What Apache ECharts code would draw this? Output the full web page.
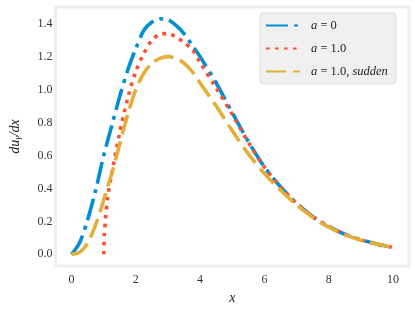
<!DOCTYPE html>
<html><head><meta charset="utf-8">
<script src="https://cdn.jsdelivr.net/npm/echarts@6/dist/echarts.min.js"></script>
<style>html,body{margin:0;padding:0;background:#fff}#c{width:415px;height:310px}</style>
</head><body><div id="c"></div>
<script>
const xTicks = [0, 2, 4, 6, 8, 10];
const yTicks = [0, 0.2, 0.4, 0.6, 0.8, 1.0, 1.2, 1.4];

const xA0 = [0, 0.25, 0.5, 0.75, 1.0, 1.25, 1.5, 1.75, 2.0, 2.25, 2.5, 2.75, 3.0, 3.25, 3.5, 3.75, 4.0, 4.5, 5.0, 5.5, 6.0, 6.5, 7.0, 7.5, 8.0, 8.5, 9.0, 9.5, 10];
const yA0 = [0, 0.07, 0.21, 0.39, 0.60, 0.78, 0.96, 1.12, 1.25, 1.36, 1.41, 1.43, 1.425, 1.39, 1.34, 1.27, 1.20, 1.04, 0.86, 0.685, 0.53, 0.41, 0.31, 0.23, 0.17, 0.122, 0.088, 0.063, 0.042];

const xA1 = [1.0, 1.02, 1.06, 1.12, 1.25, 1.5, 1.75, 2.0, 2.25, 2.5, 2.75, 3.0, 3.25, 3.5, 3.75, 4.0, 4.5, 5.0, 5.5, 6.0, 6.5, 7.0, 7.5, 8.0, 8.5, 9.0, 9.5, 10];
const yA1 = [0, 0.12, 0.22, 0.34, 0.49, 0.74, 0.95, 1.11, 1.22, 1.30, 1.335, 1.34, 1.32, 1.285, 1.245, 1.165, 1.01, 0.85, 0.68, 0.53, 0.41, 0.31, 0.23, 0.17, 0.122, 0.088, 0.063, 0.042];

const xS = [0, 0.25, 0.5, 0.75, 1.0, 1.25, 1.5, 1.75, 2.0, 2.25, 2.5, 2.75, 3.0, 3.25, 3.5, 3.75, 4.0, 4.5, 5.0, 5.5, 6.0, 6.5, 7.0, 7.5, 8.0, 8.5, 9.0, 9.5, 10];
const yS = [0, 0.012, 0.068, 0.18, 0.33, 0.49, 0.67, 0.85, 1.0, 1.10, 1.16, 1.19, 1.20, 1.19, 1.16, 1.11, 1.04, 0.90, 0.75, 0.61, 0.49, 0.39, 0.30, 0.225, 0.165, 0.12, 0.086, 0.062, 0.042];

const names = ['a0', 'a1', 'as'];
const zip = (xs, ys) => xs.map((x, i) => [x, ys[i]]);

const serif = 'Liberation Serif';
const chart = echarts.init(document.getElementById('c'), null, {renderer: 'canvas'});
const mkSeries = (name, data, color, type) => ({
  name, type: 'line', data, symbol: 'none', showSymbol: false, smooth: 0.3,
  lineStyle: {color, width: 3.6, type, cap: 'butt'}, itemStyle: {color},
  animation: false
});
chart.setOption({
  animation: false,
  backgroundColor: '#ffffff',
  grid: {left: 44, right: 6, top: 7, bottom: 39, show: true, backgroundColor: '#ffffff', borderColor: '#eeeeee', borderWidth: 3, containLabel: false},
  legend: {
    orient: 'vertical', left: 260, top: 13, itemWidth: 34, itemHeight: 8, itemGap: 10,
    padding: [6, 8, 6, 5], backgroundColor: '#f0f0f0', borderColor: '#dcdcdc', borderWidth: 1, borderRadius: 3,
    itemStyle: {opacity: 0, borderWidth: 0},
    data: names,
    formatter: function (n) {
      if (n === 'a0') return '{i|a} = 0';
      if (n === 'a1') return '{i|a} = 1.0';
      return '{i|a} = 1.0, {i|sudden}';
    },
    textStyle: {fontFamily: serif, fontSize: 12.5, color: '#222', padding: [0, 0, 0, 6],
      rich: {i: {fontFamily: serif, fontStyle: 'italic', fontSize: 12.5, color: '#222'}}}
  },
  xAxis: {
    type: 'value', min: -0.5, max: 10.5,
    name: 'x', nameLocation: 'middle', nameGap: 24,
    nameTextStyle: {fontFamily: serif, fontStyle: 'italic', fontSize: 14, color: '#222'},
    axisLine: {show: false}, axisTick: {show: false}, splitLine: {show: false},
    axisLabel: {customValues: xTicks, fontFamily: serif, fontSize: 12, color: '#333', margin: 8,
      formatter: v => String(v)}
  },
  yAxis: {
    type: 'value', min: -0.0715, max: 1.5015,
    name: '{i|du}{s|γ}{i|/dx}', nameLocation: 'middle', nameGap: 33, nameRotate: 90,
    nameTextStyle: {fontFamily: serif, fontSize: 14, color: '#222',
      rich: {i: {fontFamily: serif, fontStyle: 'italic', fontSize: 14, color: '#222'},
             s: {fontFamily: serif, fontStyle: 'italic', fontSize: 9, color: '#222', padding: [6, 0, 0, 0]}}},
    axisLine: {show: false}, axisTick: {show: false}, splitLine: {show: false},
    axisLabel: {customValues: yTicks, fontFamily: serif, fontSize: 12, color: '#333', margin: 3,
      formatter: v => v.toFixed(1)}
  },
  series: [
    mkSeries('a0', zip(xA0, yA0), '#008fd5', [22, 6, 4, 6]),
    mkSeries('a1', zip(xA1, yA1), '#fc4f30', [3.6, 5.4]),
    mkSeries('as', zip(xS, yS), '#e5ae38', [20, 7])
  ]
});
</script></body></html>
